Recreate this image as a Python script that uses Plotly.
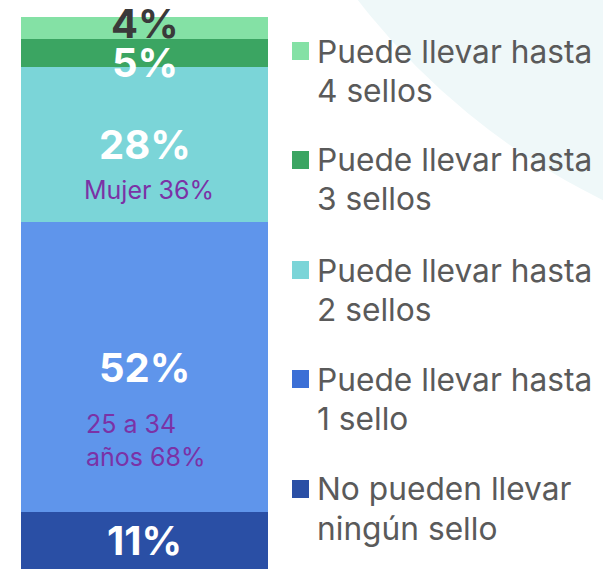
import plotly.graph_objects as go

categories = ["No pueden llevar<br>ningún sello", "Puede llevar hasta<br>1 sello",
              "Puede llevar hasta<br>2 sellos", "Puede llevar hasta<br>3 sellos",
              "Puede llevar hasta<br>4 sellos"]
values = [11, 52, 28, 5, 4]
bar_colors = ["#2a4fa5", "#5f95eb", "#7bd5d8", "#3ba562", "#84e1a5"]
legend_colors = ["#2a4fa5", "#3b6fd6", "#7bd5d8", "#3ba562", "#84e1a5"]
label_colors = ["white", "white", "white", "white", "#3a3a3a"]
label_shift = [2, 0, 0, -10, 4]
notes = ["Mujer 36%", "25 a 34<br>años 68%"]

W, H = 603, 569
L, R, T, B = 21, 268, 15, 569

fig = go.Figure()
for cat, v, c in zip(categories, values, bar_colors):
    fig.add_trace(go.Bar(x=[0], y=[v], name=cat, marker=dict(color=c, line=dict(width=0)),
                         width=1, showlegend=False, hoverinfo="skip"))

font = "Inter, Roboto, sans-serif"
ann = []
cum = 0
for v, lc, sh in zip(values, label_colors, label_shift):
    mid = cum + v / 2
    ann.append(dict(x=0, y=mid, xref="x", yref="y", text=f"<b>{v}%</b>", showarrow=False,
                    font=dict(family=font, size=40, color=lc), yshift=sh))
    cum += v

# notes
ann.append(dict(x=0.02, y=values[0] + values[1] + 5.8, xref="x", yref="y", text=notes[0],
                showarrow=False, font=dict(family=font, size=25, color="#7b32a6")))
ann.append(dict(x=-0.245, y=values[0] + 12.8, xref="x", yref="y", text=notes[1], align="left",
                xanchor="left", showarrow=False, font=dict(family=font, size=25, color="#7b32a6")))

def px2x(px):
    return (px - L) / (R - L)

def py2y(py):
    return (B - py) / (B - T)

shapes = []
# background arc
cx, cy, r = 912.6, -429.3, 701.5
shapes.append(dict(type="circle", xref="paper", yref="paper", layer="below",
                   x0=px2x(cx - r), x1=px2x(cx + r), y0=py2y(cy + r), y1=py2y(cy - r),
                   fillcolor="#eff8f9", line=dict(width=0)))

# manual legend (top to bottom: reverse order)
leg_y = [51, 160, 270, 379, 489]
for i, idx in enumerate(range(len(categories) - 1, -1, -1)):
    yc = leg_y[i]
    shapes.append(dict(type="rect", xref="paper", yref="paper",
                       x0=px2x(292), x1=px2x(309), y0=py2y(yc + 9), y1=py2y(yc - 9),
                       fillcolor=legend_colors[idx], line=dict(width=0)))
    lines = categories[idx].split("<br>")
    for j, t in enumerate(lines):
        ann.append(dict(x=px2x(315), y=py2y(yc + j * 39), xref="paper", yref="paper", text=t,
                        xanchor="left", yanchor="middle", showarrow=False,
                        font=dict(family=font, size=31.7, color="#5a5a5a")))

fig.update_layout(
    width=W, height=H, barmode="stack", bargap=0,
    margin=dict(l=L, r=W - R, t=T, b=H - B, pad=0),
    paper_bgcolor="white", plot_bgcolor="rgba(0,0,0,0)",
    xaxis=dict(range=[-0.5, 0.5], visible=False, fixedrange=True),
    yaxis=dict(range=[0.7, 100.3], visible=False, fixedrange=True),
    annotations=ann, shapes=shapes, showlegend=False,
)
fig.write_html("out.html", config={"displayModeBar": False},
               post_script="document.body.style.margin='0';document.body.style.overflow='hidden';")
